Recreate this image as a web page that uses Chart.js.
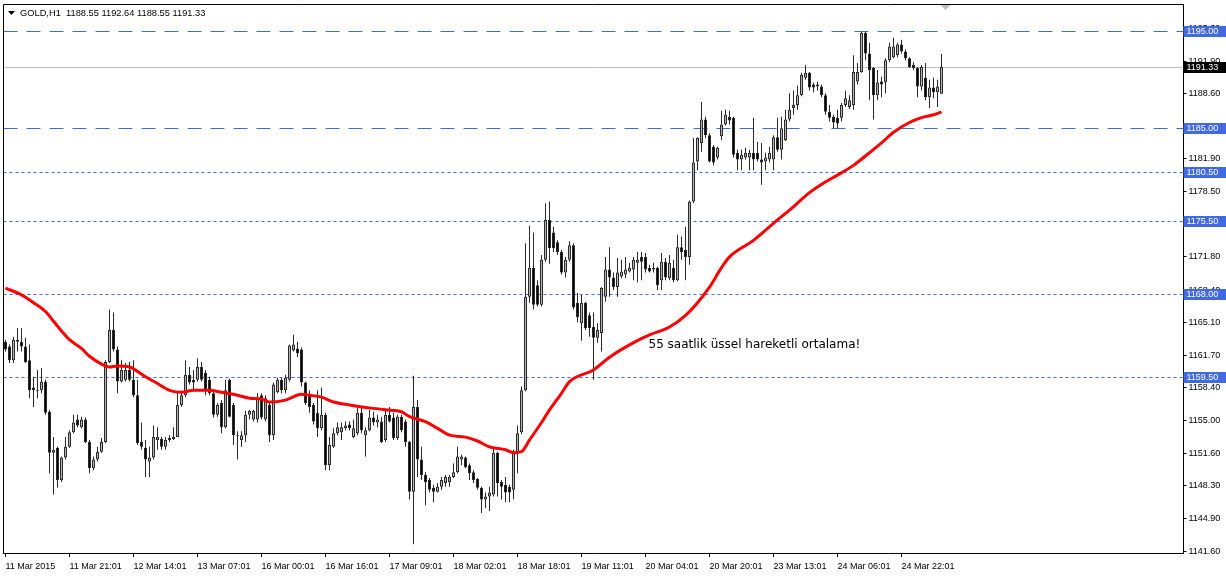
<!DOCTYPE html>
<html>
<head>
<meta charset="utf-8">
<title>GOLD,H1</title>
<script src="https://cdn.jsdelivr.net/npm/chart.js@4.4.1/dist/chart.umd.min.js"></script>
<style>
  html, body { margin: 0; padding: 0; background: #fff; }
  #wrap { width: 1226px; height: 577px; }
</style>
</head>
<body>
<div id="wrap"><canvas id="gold" width="1226" height="577"></canvas></div>
<script>
// GOLD H1, 11-24 Mar 2015, bars
const opens = [
  1163.1, 1162.6, 1161.2, 1163.1, 1163.1, 1162.6, 1161.2, 1158.4, 1158.1, 1158.1,
  1159.0, 1155.9, 1151.7, 1152.2, 1148.9, 1151.2, 1152.3, 1153.8, 1155.1, 1154.3,
  1155.1, 1152.8, 1150.1, 1151.0, 1151.8, 1152.8, 1161.0, 1164.3, 1162.3, 1159.0,
  1159.2, 1160.2, 1159.2, 1157.6, 1152.8, 1152.2, 1150.8, 1151.2, 1153.0, 1153.1,
  1152.3, 1153.0, 1153.1, 1153.3, 1156.6, 1157.6, 1159.7, 1159.2, 1159.2, 1160.5,
  1159.9, 1159.2, 1157.8, 1155.6, 1156.8, 1154.3, 1159.2, 1156.6, 1153.5, 1153.0,
  1153.5, 1155.6, 1155.1, 1155.1, 1157.6, 1155.1, 1156.6, 1153.5, 1157.9, 1159.2,
  1158.1, 1159.2, 1162.2, 1162.4, 1162.3, 1158.9, 1157.6, 1156.6, 1155.8, 1154.2,
  1155.6, 1150.4, 1152.3, 1153.7, 1153.8, 1154.2, 1154.6, 1153.3, 1153.7, 1155.8,
  1153.5, 1154.0, 1155.3, 1154.8, 1154.9, 1153.0, 1155.6, 1155.3, 1153.2, 1155.4,
  1154.9, 1152.8, 1147.7, 1156.4, 1151.0, 1149.4, 1148.9, 1148.1, 1147.7, 1148.2,
  1148.6, 1148.7, 1149.2, 1149.7, 1151.0, 1151.2, 1150.4, 1149.7, 1149.0, 1148.1,
  1146.9, 1147.2, 1147.4, 1151.7, 1148.7, 1148.4, 1148.2, 1147.9, 1151.8, 1153.8,
  1158.1, 1167.7, 1170.7, 1168.9, 1166.9, 1171.5, 1175.6, 1174.3, 1173.3, 1172.3,
  1170.2, 1171.5, 1173.0, 1167.1, 1165.0, 1167.1, 1165.8, 1164.6, 1163.5, 1164.0,
  1167.7, 1170.5, 1169.7, 1168.7, 1169.8, 1170.0, 1170.3, 1170.5, 1171.2, 1171.8,
  1171.8, 1170.7, 1170.5, 1170.7, 1169.4, 1171.3, 1169.6, 1170.7, 1169.4, 1172.8,
  1172.5, 1171.8, 1177.5, 1181.6, 1183.5, 1185.9, 1184.3, 1183.1, 1182.0, 1184.2,
  1185.4, 1186.2, 1186.1, 1182.5, 1181.8, 1182.0, 1182.0, 1182.5, 1182.5, 1181.8,
  1181.6, 1181.8, 1181.8, 1184.1, 1182.8, 1183.8, 1185.9, 1187.1, 1187.4, 1188.4,
  1190.2, 1190.7, 1189.5, 1189.3, 1189.3, 1188.4, 1186.7, 1186.2, 1186.1, 1186.1,
  1187.4, 1187.2, 1187.4, 1189.8, 1190.8, 1194.8, 1192.7, 1191.2, 1188.4, 1189.8,
  1189.7, 1192.0, 1192.3, 1192.5, 1193.6, 1192.9, 1192.2, 1191.5, 1191.2, 1189.3,
  1190.2, 1188.2, 1189.2, 1188.7, 1188.55
];
const highs = [
  1163.3, 1162.8, 1163.6, 1164.5, 1164.5, 1163.5, 1162.8, 1159.5, 1160.2, 1160.4,
  1159.2, 1156.1, 1153.3, 1152.3, 1151.3, 1153.3, 1154.0, 1155.6, 1155.6, 1155.4,
  1155.3, 1153.0, 1151.3, 1152.3, 1153.2, 1161.2, 1166.4, 1166.1, 1162.6, 1161.2,
  1160.9, 1161.0, 1161.2, 1159.2, 1154.8, 1153.0, 1152.3, 1154.5, 1154.3, 1153.3,
  1153.3, 1153.5, 1154.3, 1157.9, 1157.9, 1161.2, 1160.5, 1160.2, 1161.4, 1161.0,
  1160.2, 1159.5, 1158.1, 1156.8, 1157.1, 1159.2, 1159.3, 1156.8, 1153.9, 1153.9,
  1156.0, 1156.1, 1156.1, 1157.8, 1157.8, 1157.6, 1156.8, 1158.9, 1159.4, 1159.4,
  1159.7, 1162.8, 1163.8, 1163.1, 1162.5, 1159.0, 1158.1, 1156.8, 1158.1, 1158.4,
  1155.8, 1153.3, 1154.2, 1154.8, 1154.8, 1154.9, 1154.9, 1155.1, 1156.3, 1156.3,
  1154.3, 1156.1, 1155.9, 1155.6, 1155.4, 1156.1, 1156.4, 1155.8, 1155.6, 1155.6,
  1155.1, 1152.9, 1159.6, 1157.1, 1152.3, 1149.7, 1149.1, 1148.4, 1148.6, 1149.2,
  1149.4, 1149.4, 1150.6, 1152.3, 1151.5, 1151.3, 1150.6, 1149.9, 1149.1, 1148.2,
  1147.6, 1148.2, 1152.2, 1151.8, 1148.9, 1149.2, 1148.4, 1152.0, 1154.5, 1158.5,
  1173.2, 1175.0, 1174.3, 1169.4, 1172.0, 1177.3, 1177.5, 1174.9, 1173.5, 1172.5,
  1171.8, 1173.4, 1173.2, 1168.1, 1167.9, 1167.2, 1166.1, 1166.1, 1165.0, 1168.7,
  1171.8, 1172.8, 1170.2, 1171.7, 1171.5, 1171.8, 1171.2, 1171.8, 1172.3, 1172.3,
  1172.2, 1171.0, 1171.2, 1170.8, 1172.2, 1171.7, 1172.0, 1171.5, 1174.1, 1173.9,
  1174.9, 1177.6, 1184.0, 1184.1, 1187.7, 1186.2, 1184.5, 1183.3, 1183.1, 1186.8,
  1186.9, 1186.8, 1186.2, 1182.8, 1182.8, 1183.0, 1182.8, 1186.1, 1183.6, 1183.5,
  1182.5, 1183.1, 1184.3, 1186.1, 1186.2, 1186.9, 1188.6, 1188.9, 1189.4, 1190.7,
  1191.5, 1190.8, 1189.7, 1189.8, 1189.5, 1188.6, 1187.4, 1186.4, 1186.9, 1187.6,
  1188.9, 1188.4, 1192.5, 1191.7, 1194.9, 1194.9, 1193.8, 1191.3, 1191.0, 1190.3,
  1192.2, 1193.8, 1194.3, 1193.8, 1194.1, 1193.1, 1192.3, 1191.8, 1191.3, 1191.5,
  1191.7, 1190.0, 1190.2, 1190.0, 1192.64
];
const lows = [
  1162.1, 1160.9, 1160.9, 1162.1, 1162.1, 1160.9, 1157.3, 1156.4, 1157.3, 1157.8,
  1155.6, 1149.6, 1147.4, 1148.1, 1148.7, 1151.0, 1152.2, 1153.7, 1154.3, 1154.2,
  1152.7, 1149.6, 1149.9, 1150.8, 1151.7, 1152.7, 1160.9, 1162.1, 1157.8, 1158.9,
  1159.0, 1159.0, 1157.4, 1152.5, 1152.0, 1149.2, 1149.2, 1151.0, 1152.0, 1152.0,
  1152.0, 1152.8, 1153.0, 1153.3, 1156.4, 1157.4, 1158.7, 1158.1, 1159.0, 1159.0,
  1157.6, 1157.6, 1155.3, 1155.4, 1153.7, 1154.2, 1155.3, 1152.5, 1151.0, 1152.3,
  1152.8, 1155.1, 1154.9, 1154.8, 1155.1, 1154.9, 1152.8, 1153.0, 1157.8, 1157.8,
  1157.8, 1159.0, 1162.1, 1161.5, 1158.5, 1156.6, 1155.8, 1154.6, 1153.3, 1154.0,
  1149.9, 1149.9, 1152.2, 1153.5, 1153.0, 1154.0, 1154.0, 1153.2, 1153.5, 1153.7,
  1151.3, 1153.9, 1154.5, 1154.3, 1152.7, 1152.8, 1154.8, 1153.0, 1153.0, 1153.8,
  1152.3, 1146.9, 1142.3, 1149.2, 1148.9, 1146.3, 1147.6, 1146.6, 1147.6, 1147.9,
  1148.2, 1148.2, 1149.1, 1149.6, 1150.4, 1150.1, 1148.9, 1148.6, 1147.9, 1145.5,
  1146.0, 1145.7, 1147.2, 1147.2, 1146.9, 1146.6, 1146.6, 1146.9, 1149.6, 1153.6,
  1158.0, 1167.1, 1166.4, 1166.7, 1166.7, 1171.3, 1171.1, 1172.3, 1172.0, 1170.0,
  1169.7, 1171.3, 1166.4, 1165.1, 1163.2, 1164.3, 1163.6, 1159.2, 1163.0, 1162.1,
  1167.2, 1167.7, 1168.4, 1167.7, 1169.6, 1169.6, 1170.2, 1169.4, 1169.2, 1169.4,
  1170.2, 1170.2, 1170.2, 1168.4, 1168.4, 1169.4, 1169.4, 1169.2, 1169.3, 1171.5,
  1169.4, 1171.0, 1177.3, 1180.7, 1182.6, 1184.0, 1181.5, 1181.2, 1181.8, 1183.8,
  1185.3, 1185.4, 1182.0, 1180.7, 1180.7, 1181.8, 1180.7, 1180.7, 1181.6, 1179.2,
  1180.7, 1181.5, 1180.7, 1182.6, 1181.8, 1183.7, 1185.7, 1186.4, 1186.9, 1188.3,
  1190.0, 1188.9, 1188.7, 1188.9, 1188.2, 1186.4, 1185.7, 1185.0, 1185.0, 1185.7,
  1187.2, 1187.0, 1186.9, 1189.5, 1190.7, 1192.0, 1187.9, 1185.9, 1187.9, 1188.2,
  1188.6, 1191.8, 1192.2, 1192.3, 1192.7, 1192.0, 1191.2, 1191.0, 1188.2, 1188.9,
  1187.9, 1187.1, 1188.1, 1187.2, 1188.55
];
const closes = [
  1162.3, 1161.2, 1163.3, 1163.3, 1162.6, 1161.0, 1158.1, 1158.1, 1158.0, 1159.0,
  1155.8, 1151.7, 1152.0, 1148.9, 1151.2, 1152.3, 1153.8, 1154.8, 1154.5, 1155.1,
  1152.8, 1150.1, 1151.0, 1151.8, 1152.8, 1161.0, 1164.3, 1162.3, 1159.0, 1160.2,
  1160.2, 1159.2, 1157.6, 1152.7, 1152.3, 1151.0, 1151.2, 1153.3, 1153.3, 1152.3,
  1153.0, 1153.2, 1153.3, 1156.6, 1157.6, 1159.7, 1158.9, 1158.9, 1160.5, 1159.2,
  1158.1, 1157.8, 1155.6, 1156.6, 1154.3, 1158.1, 1155.4, 1153.5, 1153.4, 1153.5,
  1155.6, 1156.0, 1156.0, 1157.3, 1155.3, 1157.3, 1153.5, 1158.7, 1159.2, 1158.1,
  1159.4, 1162.7, 1162.8, 1161.9, 1158.9, 1156.8, 1156.4, 1154.9, 1154.2, 1155.6,
  1150.4, 1152.5, 1153.7, 1154.3, 1154.3, 1154.5, 1154.2, 1154.2, 1155.8, 1154.0,
  1154.0, 1155.3, 1154.8, 1155.1, 1152.8, 1155.6, 1154.9, 1153.2, 1155.4, 1154.0,
  1152.8, 1147.7, 1156.4, 1151.0, 1149.4, 1148.7, 1147.9, 1147.7, 1148.2, 1148.9,
  1149.2, 1149.2, 1149.7, 1151.3, 1151.3, 1150.2, 1149.6, 1148.9, 1148.1, 1146.9,
  1147.2, 1147.6, 1151.7, 1148.6, 1148.2, 1147.6, 1147.6, 1151.8, 1153.7, 1158.1,
  1167.7, 1170.7, 1166.9, 1166.9, 1171.5, 1175.6, 1172.7, 1172.7, 1172.3, 1170.2,
  1171.5, 1173.0, 1166.6, 1165.6, 1167.1, 1164.5, 1164.5, 1163.5, 1164.3, 1168.6,
  1170.5, 1169.7, 1168.7, 1170.2, 1170.3, 1170.5, 1170.7, 1171.5, 1171.5, 1171.3,
  1170.5, 1170.3, 1170.7, 1168.9, 1171.3, 1169.7, 1171.2, 1169.4, 1172.8, 1172.3,
  1171.8, 1177.5, 1181.5, 1184.0, 1185.9, 1184.3, 1181.6, 1181.5, 1183.0, 1185.4,
  1186.4, 1185.8, 1182.3, 1181.8, 1182.3, 1182.5, 1182.5, 1181.8, 1181.8, 1181.5,
  1182.0, 1182.5, 1184.1, 1182.8, 1185.0, 1185.9, 1186.9, 1187.4, 1188.4, 1190.5,
  1190.7, 1189.2, 1189.2, 1189.5, 1188.4, 1186.7, 1186.1, 1185.6, 1185.5, 1187.4,
  1188.1, 1187.9, 1190.8, 1190.8, 1194.8, 1192.7, 1191.0, 1188.4, 1189.7, 1189.5,
  1192.0, 1193.4, 1193.4, 1193.6, 1192.9, 1192.2, 1191.3, 1191.2, 1189.3, 1191.3,
  1188.2, 1189.2, 1188.7, 1189.3, 1191.33
];

// 55 period EMA, read at these bars
const emaBars = [0, 4, 7, 10, 12, 14, 16, 19, 21, 24, 26, 28, 31, 32, 35, 38, 41, 44, 47, 51,
  54, 57, 61, 64, 66, 70, 74, 76, 79, 82, 86, 91, 95, 99, 101, 105, 108, 111, 115, 118,
  121, 125, 127, 129, 131, 134, 136, 139, 141, 147, 151, 157, 161, 166, 170, 173, 176, 179, 181, 187,
  193, 196, 201, 205, 208, 212, 216, 219, 222, 226, 229, 232, 234];
const emaValues = [1168.6, 1167.9, 1167.1, 1166.2, 1165.2, 1164.2, 1163.3, 1162.4, 1161.6, 1160.8,
  1160.5, 1160.6, 1160.5, 1160.3, 1159.5, 1158.8, 1158.1, 1157.9, 1158.1, 1158.1,
  1157.9, 1157.7, 1157.3, 1157.2, 1156.9, 1157.1, 1157.7, 1157.6, 1157.4, 1156.9,
  1156.6, 1156.3, 1156.1, 1155.9, 1155.4, 1154.9, 1154.2, 1153.5, 1153.3, 1152.9,
  1152.3, 1152.0, 1151.7, 1151.8, 1153.0, 1154.8, 1156.1, 1157.8, 1159.0, 1160.2,
  1161.5, 1163.0, 1163.8, 1164.6, 1165.8, 1167.1, 1168.7, 1170.7, 1171.8, 1173.5,
  1175.6, 1176.6, 1178.4, 1179.5, 1180.2, 1181.2, 1182.5, 1183.5, 1184.6, 1185.6,
  1186.1, 1186.4, 1186.7];

const xTickLabels = ['11 Mar 2015', '11 Mar 21:01', '12 Mar 14:01', '13 Mar 07:01', '16 Mar 00:01',
  '16 Mar 16:01', '17 Mar 09:01', '18 Mar 02:01', '18 Mar 18:01', '19 Mar 11:01', '20 Mar 04:01',
  '20 Mar 20:01', '23 Mar 13:01', '24 Mar 06:01', '24 Mar 22:01'];
const yTickValues = [1141.60, 1144.90, 1148.30, 1151.60, 1155.00, 1158.40, 1161.70, 1165.10, 1168.40,
  1171.80, 1175.10, 1178.50, 1181.90, 1185.20, 1188.60, 1191.90, 1195.30];

const dashLevels = [1195.00, 1185.00];
const dotLevels = [1180.50, 1175.50, 1168.00, 1159.50];
const bidPrice = 1191.33;
const note = '55 saatlik üssel hareketli ortalama!';

const slots = 295;     // bar slots across the window (incl. chart shift)
const labelEvery = 16; // bars between time labels
const categories = Array.from({ length: slots }, (_, i) => i);

const ema = new Array(opens.length).fill(null);
emaBars.forEach((b, k) => { ema[b] = emaValues[k]; });

const blue = '#4169e1';
const axisFont = { family: 'Liberation Sans', size: 9 };

const overlay = {
  id: 'overlay',
  beforeDatasetsDraw(chart) {
    const { ctx, chartArea: a, scales: { y } } = chart;
    ctx.save();
    ctx.lineWidth = 1;
    const hline = (p, color, dash) => {
      const py = Math.round(y.getPixelForValue(p)) + 0.5;
      ctx.strokeStyle = color;
      ctx.setLineDash(dash);
      ctx.beginPath();
      ctx.moveTo(a.left, py);
      ctx.lineTo(a.right, py);
      ctx.stroke();
    };
    hline(bidPrice, '#c0c0c0', []);
    dashLevels.forEach(p => hline(p, blue, [14, 9]));
    dotLevels.forEach(p => hline(p, blue, [3, 3]));
    ctx.restore();
  },
  afterDraw(chart) {
    const { ctx, chartArea: a, scales: { x, y } } = chart;
    ctx.save();

    // frame left/top
    ctx.strokeStyle = '#000';
    ctx.lineWidth = 1;
    ctx.beginPath();
    ctx.moveTo(a.left, a.bottom);
    ctx.lineTo(a.left, a.top + 0.5);
    ctx.lineTo(a.right, a.top + 0.5);
    ctx.stroke();

    // price tags on the right scale
    const tag = (p, bg) => {
      const py = Math.round(y.getPixelForValue(p));
      ctx.fillStyle = bg;
      ctx.fillRect(a.right, py - 5, chart.width - a.right, 11);
      ctx.fillStyle = '#fff';
      ctx.font = '9px "Liberation Sans"';
      ctx.textAlign = 'left';
      ctx.textBaseline = 'middle';
      ctx.fillText(p.toFixed(2), a.right + 3, py + 0.5);
    };
    dashLevels.concat(dotLevels).forEach(p => tag(p, blue));
    tag(bidPrice, '#000');

    // chart shift marker
    const sx = x.getPixelForValue(opens.length);
    ctx.fillStyle = '#c0c0c0';
    ctx.beginPath();
    ctx.moveTo(sx - 5, a.top + 1);
    ctx.lineTo(sx + 5, a.top + 1);
    ctx.lineTo(sx, a.top + 6);
    ctx.fill();

    // header
    const n = opens.length - 1;
    ctx.fillStyle = '#000';
    ctx.beginPath();
    ctx.moveTo(8, 11);
    ctx.lineTo(15, 11);
    ctx.lineTo(11.5, 15);
    ctx.fill();
    ctx.font = '9.3px "Liberation Sans"';
    ctx.textAlign = 'left';
    ctx.textBaseline = 'middle';
    ctx.fillText('GOLD,H1  ' + [opens[n], highs[n], lows[n], closes[n]].map(v => v.toFixed(2)).join(' '), 20, 13);

    // annotation
    ctx.font = '12px "DejaVu Sans"';
    ctx.fillText(note, x.getPixelForValue(161) - 1, y.getPixelForValue(1162.8));
    ctx.restore();
  }
};

new Chart(document.getElementById('gold'), {
  type: 'bar',
  data: {
    labels: categories,
    datasets: [
      {
        type: 'line',
        data: ema,
        borderColor: '#ff0000',
        borderWidth: 3,
        pointRadius: 0,
        spanGaps: true,
        cubicInterpolationMode: 'monotone',
        order: 0
      },
      {
        data: opens.map((o, i) => [o, closes[i]]),
        backgroundColor: opens.map((o, i) => closes[i] >= o ? '#b4b4b4' : '#000000'),
        borderColor: '#2a2a2a',
        borderWidth: 1,
        borderSkipped: false,
        barThickness: 3,
        minBarLength: 1,
        inflateAmount: 0,
        grouped: false,
        order: 1
      },
      {
        data: lows.map((l, i) => [l, highs[i]]),
        backgroundColor: '#2a2a2a',
        borderWidth: 0,
        barThickness: 1,
        inflateAmount: 0,
        grouped: false,
        order: 2
      }
    ]
  },
  options: {
    responsive: false,
    devicePixelRatio: 1,
    animation: false,
    layout: { padding: { left: 3.5, top: 4, right: 0, bottom: 0 } },
    plugins: { legend: { display: false }, tooltip: { enabled: false } },
    scales: {
      x: {
        type: 'category',
        offset: true,
        grid: { drawOnChartArea: false, tickLength: 4, tickColor: '#000', offset: false },
        border: { color: '#000' },
        ticks: {
          autoSkip: false, maxRotation: 0, align: 'start', padding: 4,
          font: axisFont, color: '#000',
          callback: v => xTickLabels[v / labelEvery]
        },
        afterBuildTicks: s => { s.ticks = xTickLabels.map((_, k) => ({ value: k * labelEvery })); },
        afterFit: s => { s.height = 24; s.paddingLeft = 0; s.paddingRight = 0; }
      },
      y: {
        position: 'right',
        min: 1141.40,
        max: 1197.77,
        grid: { drawOnChartArea: false, tickLength: 3, tickColor: '#000' },
        border: { color: '#000' },
        ticks: { autoSkip: false, padding: 2, font: axisFont, color: '#000', callback: v => v.toFixed(2) },
        afterBuildTicks: s => { s.ticks = yTickValues.map(v => ({ value: v })); },
        afterFit: s => { s.width = 42.5; s.paddingTop = 0; s.paddingBottom = 0; }
      }
    }
  },
  plugins: [overlay]
});
</script>
</body>
</html>
